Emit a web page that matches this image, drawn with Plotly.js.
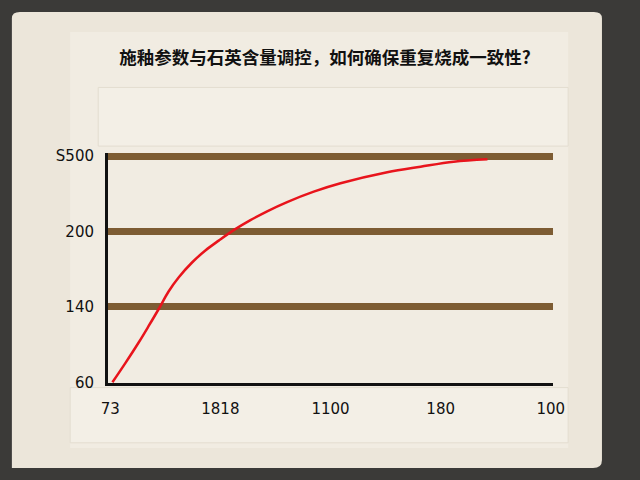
<!DOCTYPE html>
<html>
<head>
<meta charset="utf-8">
<script src="https://cdn.plot.ly/plotly-3.0.1.min.js"></script>
<style>html,body{margin:0;padding:0;background:#3b3a38;}#chart{width:640px;height:480px;}</style>
</head>
<body>
<div id="chart"></div>
<script>
// Tick labels as shown in the reference
const xTickLabels = ["73", "1818", "1100", "180", "100"];
const yTickLabels = ["60", "140", "200", "S500"];
const xTickPositions = [0, 1, 2, 3, 4];
const yTickPositions = [0, 1, 2, 3];

// Curve (in tick-index units)
const curveX = [0.02, 0.136, 0.257, 0.348, 0.439, 0.530, 0.621, 0.743, 0.864, 0.985, 1.121, 1.273, 1.425, 1.606, 1.848, 2.091, 2.515, 2.818, 3.118, 3.425];
const curveY = [0.0, 0.251, 0.524, 0.743, 0.968, 1.203, 1.389, 1.588, 1.747, 1.878, 2.017, 2.150, 2.267, 2.389, 2.527, 2.638, 2.784, 2.858, 2.925, 2.956];

const titleText = "施釉参数与石英含量调控，如何确保重复烧成一致性?";

const trace = {
  x: curveX, y: curveY, type: "scatter", mode: "lines",
  line: {color: "#e8141c", width: 2.5, shape: "spline", smoothing: 1},
  hoverinfo: "skip", showlegend: false
};

const layout = {
  width: 640, height: 480,
  margin: {l: 108, r: 87, t: 153, b: 97},
  paper_bgcolor: "#3b3a38",
  plot_bgcolor: "#efe9de",
  title: {
    text: "<b>" + titleText + "</b>",
    font: {family: "Noto Sans CJK SC", size: 17.5, color: "#111"},
    x: 0.508, xanchor: "center", y: 0.88, yanchor: "middle"
  },
  shapes: [
    {type: "path", xref: "paper", yref: "paper", layer: "below",
     path: "M -0.216,-0.37 L -0.216,1.585 Q -0.216,1.613 -0.198,1.613 L 1.092,1.613 Q 1.11,1.613 1.11,1.585 L 1.11,-0.335 Q 1.11,-0.37 1.09,-0.37 Z",
     fillcolor: "#ece6da", line: {width: 0}},
    {type: "rect", xref: "paper", yref: "paper", layer: "below",
     x0: -0.085, x1: 1.034, y0: -0.283, y1: 1.526,
     fillcolor: "#f1ece2", line: {width: 0}},
    {type: "rect", xref: "paper", yref: "paper", layer: "below",
     x0: -0.022, x1: 1.034, y0: 1.03, y1: 1.285,
     fillcolor: "#f3efe6", line: {color: "#e3ddd0", width: 1}},
    {type: "rect", xref: "paper", yref: "paper", layer: "below",
     x0: -0.085, x1: 1.034, y0: -0.26, y1: -0.02,
     fillcolor: "#f3efe6", line: {color: "#e3ddd0", width: 1}}
  ],
  xaxis: {
    range: [-0.02, 4.02], tickmode: "array", tickvals: xTickPositions, ticktext: xTickLabels,
    showgrid: false, zeroline: false, showline: true, linecolor: "#111", linewidth: 3,
    ticks: "", ticklabelstandoff: 10,
    tickfont: {family: "DejaVu Sans", size: 15, color: "#111"}, fixedrange: true
  },
  yaxis: {
    range: [-0.01, 3.04], tickmode: "array", tickvals: yTickPositions, ticktext: yTickLabels,
    showgrid: true, gridcolor: "#7d5c33", gridwidth: 7, zeroline: false,
    showline: true, linecolor: "#111", linewidth: 3, ticks: "", ticklabelstandoff: 8,
    tickfont: {family: "DejaVu Sans", size: 15, color: "#111"}, fixedrange: true
  }
};

Plotly.newPlot("chart", [trace], layout, {displayModeBar: false, staticPlot: true});
</script>
</body>
</html>
